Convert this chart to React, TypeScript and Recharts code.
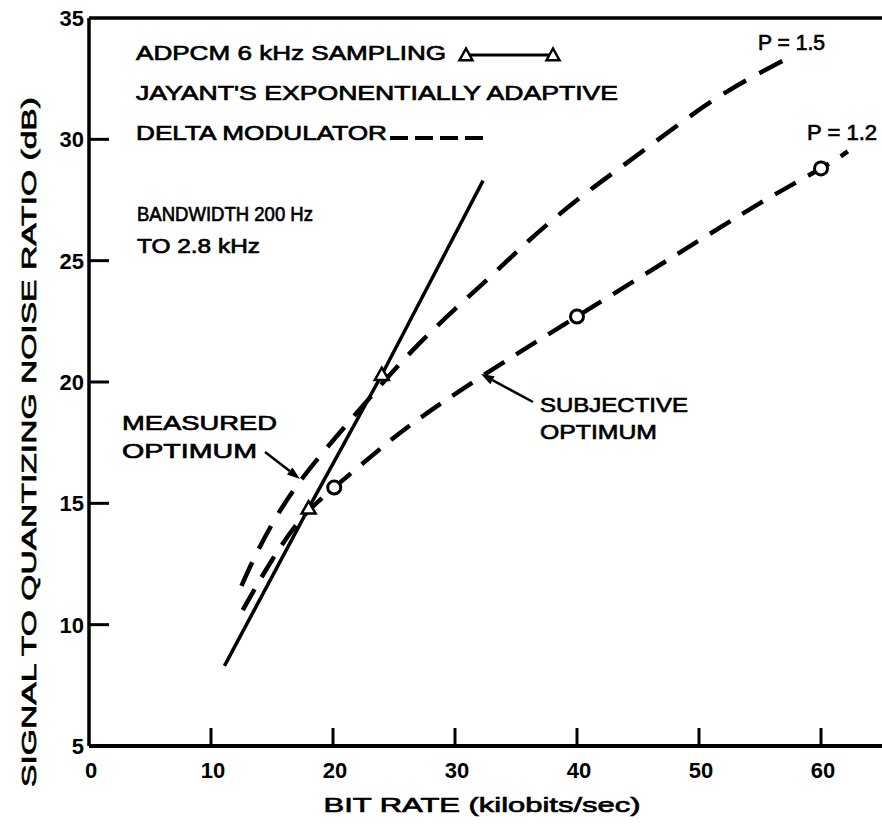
import React from "react";
import { LineChart, Line, XAxis, YAxis, ReferenceLine } from "recharts";

// ADPCM 6 kHz sampling (solid, triangles at the measured points)
const adpcmRate = [11.1, 18, 24, 32.3];
const adpcmSnr = [8.3, 14.8, 20.3, 28.3];
const adpcmMarked = [false, true, true, false];

// Jayant delta modulator, P = 1.5 (measured optimum)
const p15Rate = [12.5, 14, 17, 21.9, 27.1, 32.6, 36, 40, 44, 48.3, 52.4, 57.1];
const p15Snr = [11.6, 13.2, 15.7, 18.7, 21.6, 24.2, 25.8, 27.5, 29.0, 30.6, 32.0, 33.3];

// Jayant delta modulator, P = 1.2 (subjective optimum, circles)
const p12Rate = [12.6, 14.8, 17.3, 20.1, 24, 27.1, 32.4, 40, 48, 55.1, 60, 62.2];
const p12Snr = [10.6, 12.5, 14.3, 15.65, 17.3, 18.5, 20.3, 22.7, 25.2, 27.4, 28.8, 29.5];
const p12Marked = [false, false, false, true, false, false, false, true, false, false, true, false];

const xTicks = [0, 10, 20, 30, 40, 50, 60];
const yTicks = [5, 10, 15, 20, 25, 30, 35];

const X_MIN = 0;
const X_MAX = 65;
const Y_MIN = 5;
const Y_MAX = 35;

const toRows = (xs: number[], ys: number[], marks?: boolean[]) =>
  xs.map((x, i) => ({ x, y: ys[i], mark: marks ? marks[i] : false }));

const adpcmData = toRows(adpcmRate, adpcmSnr, adpcmMarked);
const p15Data = toRows(p15Rate, p15Snr);
const p12Data = toRows(p12Rate, p12Snr, p12Marked);

const FONT = "'Liberation Sans', Arial, sans-serif";
const tickFont = { fill: "#000", fontSize: 22, fontWeight: 700, fontFamily: FONT };

// ticks point inward, like the original graph paper
const XTick = (props: any) => {
  const { x, y, payload } = props;
  return (
    <g>
      {payload.value > X_MIN && <line x1={x} y1={y} x2={x} y2={y - 18} stroke="#000" strokeWidth={3} />}
      <text x={x + 2} y={y + 32} textAnchor="middle" {...tickFont}>
        {payload.value}
      </text>
    </g>
  );
};

const YTick = (props: any) => {
  const { x, y, payload } = props;
  return (
    <g>
      {payload.value > Y_MIN && payload.value < Y_MAX && (
        <line x1={x} y1={y} x2={x + 20} y2={y} stroke="#000" strokeWidth={3} />
      )}
      <text x={x - 5} y={y + 8} textAnchor="end" {...tickFont}>
        {payload.value}
      </text>
    </g>
  );
};

const triangleDot = (props: any) => {
  const { cx, cy, payload, index } = props;
  if (!payload?.mark) return <g key={`t${index}`} />;
  const s = 7;
  return (
    <polygon
      key={`t${index}`}
      points={`${cx},${cy - s} ${cx - s},${cy + s * 0.75} ${cx + s},${cy + s * 0.75}`}
      fill="#fff"
      stroke="#000"
      strokeWidth={2.5}
    />
  );
};

const circleDot = (props: any) => {
  const { cx, cy, payload, index } = props;
  if (!payload?.mark) return <g key={`c${index}`} />;
  return <circle key={`c${index}`} cx={cx} cy={cy} r={6.5} fill="#fff" stroke="#000" strokeWidth={3} />;
};

function Arrow({ x1, y1, x2, y2 }: { x1: number; y1: number; x2: number; y2: number }) {
  const a = Math.atan2(y2 - y1, x2 - x1);
  const len = 13;
  const w = 4.5;
  const bx = x2 - len * Math.cos(a);
  const by = y2 - len * Math.sin(a);
  const px = -Math.sin(a) * w;
  const py = Math.cos(a) * w;
  return (
    <g>
      <line x1={x1} y1={y1} x2={bx} y2={by} stroke="#000" strokeWidth={2.5} />
      <polygon points={`${x2},${y2} ${bx + px},${by + py} ${bx - px},${by - py}`} fill="#000" />
    </g>
  );
}

function Tri({ x, y }: { x: number; y: number }) {
  const s = 6.5;
  return (
    <polygon
      points={`${x},${y - s} ${x - s},${y + s * 0.8} ${x + s},${y + s * 0.8}`}
      fill="#fff"
      stroke="#000"
      strokeWidth={2.5}
    />
  );
}

export default function App() {
  const txt = {
    fontFamily: FONT,
    fontSize: 21,
    fill: "#000",
    stroke: "#000",
    strokeWidth: 0.7,
    lengthAdjust: "spacingAndGlyphs",
  } as const;
  return (
    <div style={{ position: "absolute", left: 0, top: 0, width: 882, height: 824, background: "#fff" }}>
      <LineChart width={882} height={824} margin={{ top: 18, right: 0, bottom: 0, left: 29 }}>
        <XAxis
          type="number"
          dataKey="x"
          domain={[X_MIN, X_MAX]}
          ticks={xTicks}
          allowDataOverflow
          height={78}
          tickSize={0}
          tickMargin={0}
          tickLine={false}
          axisLine={{ stroke: "#000", strokeWidth: 4 }}
          tick={XTick}
        />
        <YAxis
          type="number"
          dataKey="y"
          domain={[Y_MIN, Y_MAX]}
          ticks={yTicks}
          allowDataOverflow
          width={60}
          tickSize={0}
          tickMargin={0}
          tickLine={false}
          axisLine={{ stroke: "#000", strokeWidth: 3.5 }}
          tick={YTick}
        />
        <ReferenceLine y={Y_MAX} stroke="#000" strokeWidth={3.5} />
        <Line
          data={adpcmData}
          dataKey="y"
          type="linear"
          stroke="#000"
          strokeWidth={3.5}
          dot={triangleDot}
          activeDot={false}
          isAnimationActive={false}
        />
        <Line
          data={p15Data}
          dataKey="y"
          type="natural"
          stroke="#000"
          strokeWidth={4.5}
          strokeDasharray="26 15"
          dot={false}
          activeDot={false}
          isAnimationActive={false}
        />
        <Line
          data={p12Data}
          dataKey="y"
          type="natural"
          stroke="#000"
          strokeWidth={4.5}
          strokeDasharray="24 14"
          dot={circleDot}
          activeDot={false}
          isAnimationActive={false}
        />
      </LineChart>
      <svg width={882} height={824} style={{ position: "absolute", left: 0, top: 0, pointerEvents: "none" }}>
        <text {...txt} x={136} y={60} textLength={310}>ADPCM 6 kHz SAMPLING</text>
        <line x1={466} y1={55} x2={553} y2={55} stroke="#000" strokeWidth={3} />
        <Tri x={466} y={55} />
        <Tri x={553} y={55} />
        <text {...txt} x={136} y={100} textLength={482}>JAYANT'S EXPONENTIALLY ADAPTIVE</text>
        <text {...txt} x={136} y={140} textLength={251}>DELTA MODULATOR</text>
        <line x1={390} y1={138} x2={484} y2={138} stroke="#000" strokeWidth={4} strokeDasharray="18 7" />
        <text {...txt} x={137} y={221} textLength={176}>BANDWIDTH 200 Hz</text>
        <text {...txt} x={137} y={253} textLength={123}>TO 2.8 kHz</text>
        <text {...txt} x={122} y={430} textLength={155}>MEASURED</text>
        <text {...txt} x={122} y={458} textLength={135}>OPTIMUM</text>
        <Arrow x1={265} y1={452} x2={300} y2={479} />
        <text {...txt} x={540} y={412} textLength={148}>SUBJECTIVE</text>
        <text {...txt} x={540} y={439} textLength={117}>OPTIMUM</text>
        <Arrow x1={533} y1={402} x2={481} y2={374} />
        <text {...txt} fontSize={22} x={758} y={50} textLength={67}>P = 1.5</text>
        <text {...txt} fontSize={22} x={807} y={140} textLength={70}>P = 1.2</text>
        <text
          {...txt}
          x={28}
          y={442}
          textAnchor="middle"
          dominantBaseline="central"
          transform="rotate(-90 28 442)"
          textLength={690}
        >
          SIGNAL TO QUANTIZING NOISE RATIO (dB)
        </text>
        <text {...txt} x={482} y={812} textAnchor="middle" textLength={317}>
          BIT RATE (kilobits/sec)
        </text>
      </svg>
    </div>
  );
}
